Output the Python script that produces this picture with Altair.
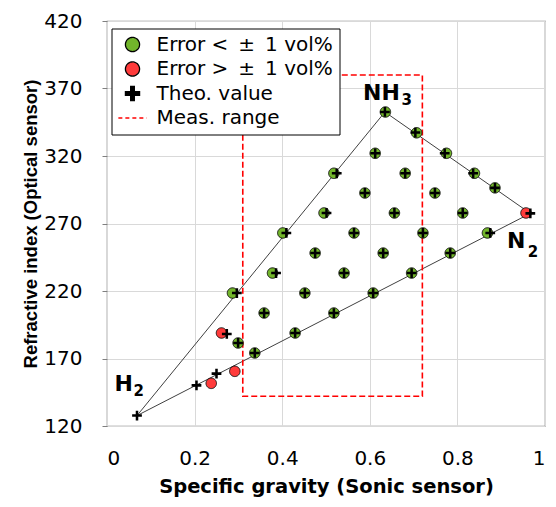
import altair as alt
import pandas as pd

# ---------------- data ----------------
meas_x = [0.6356, 0.7069, 0.6123, 0.7750, 0.5180, 0.6808, 0.8389, 0.8858, 0.5888, 0.7487,
          0.4955, 0.6562, 0.8122, 0.9566, 0.4014, 0.5640, 0.7213, 0.8686, 0.4752, 0.6306,
          0.7836, 0.3779, 0.5412, 0.6955, 0.2865, 0.4517, 0.6077, 0.3587, 0.5180, 0.2614,
          0.4295, 0.2993, 0.3374, 0.2918, 0.2380]
meas_y = [352.6, 337.2, 322.0, 322.0, 307.2, 307.2, 307.2, 296.4, 292.6, 292.6,
          277.8, 277.8, 277.8, 277.8, 263.0, 263.0, 263.0, 263.0, 248.1, 248.1,
          248.1, 233.3, 233.3, 233.3, 218.5, 218.5, 218.5, 203.7, 203.7, 188.9,
          188.9, 181.5, 174.1, 160.5, 151.6]
meas_ok = [1, 1, 1, 1, 1, 1, 1, 1, 1, 1,
           1, 1, 1, 0, 1, 1, 1, 1, 1, 1,
           1, 1, 1, 1, 1, 1, 1, 1, 1, 0,
           1, 1, 1, 0, 0]

theo_x = [0.6345, 0.7040, 0.6123, 0.7710, 0.5245, 0.6808, 0.8360, 0.8858, 0.5888, 0.7487,
          0.5012, 0.6562, 0.8122, 0.9665, 0.4095, 0.5640, 0.7213, 0.8750, 0.4752, 0.6306,
          0.7836, 0.3860, 0.5412, 0.6955, 0.2965, 0.4517, 0.6077, 0.3587, 0.5180, 0.2735,
          0.4295, 0.2993, 0.3374, 0.2500, 0.2043, 0.0685]
theo_y = [352.6, 337.4, 322.0, 322.0, 307.2, 307.2, 307.2, 296.4, 292.6, 292.6,
          277.8, 277.8, 277.8, 277.5, 263.0, 263.0, 263.0, 263.0, 248.1, 248.1,
          248.1, 233.3, 233.3, 233.3, 218.5, 218.5, 218.5, 203.7, 203.7, 188.2,
          188.9, 181.5, 174.1, 158.8, 150.1, 127.7]

vertex_main = ["H", "NH", "N"]
vertex_sub = ["2", "3", "2"]
vertex_x = [0.0685, 0.6345, 0.9665]
vertex_y = [127.7, 352.6, 277.5]

range_x = [0.31, 0.72]
range_y = [142, 380]

x_ticks = [0, 0.2, 0.4, 0.6, 0.8, 1]
y_ticks = [120, 170, 220, 270, 320, 370, 420]

LAB_OK = "Error <\u2002\u00b1\u20021 vol%"
LAB_BAD = "Error >\u2002\u00b1\u20021 vol%"
LAB_THEO = "Theo. value"
LAB_RANGE = "Meas. range"
kinds = [LAB_OK, LAB_BAD, LAB_THEO, LAB_RANGE]
GREEN = "#72B52B"
RED = "#FF3B3B"

FONT = "DejaVu Sans"
FONT_Y = "Liberation Sans"
CROSS = "M-1,-0.26H1V0.26H-1Z M-0.26,-1H0.26V1H-0.26Z"
DASHLINE = "M-2,0H2"

fill_range = [GREEN, RED, "#000000", "transparent"]
stroke_range = ["#000000", "#000000", "#000000", "#FF0000"]
shape_range = ["circle", "circle", CROSS, DASHLINE]
dash_range = [[1, 0], [1, 0], [1, 0], [4, 3]]

# ---------------- tables ----------------
df_meas = pd.DataFrame({"x": meas_x, "y": meas_y,
                        "kind": [LAB_OK if o else LAB_BAD for o in meas_ok]})
df_theo = pd.DataFrame({"x": theo_x, "y": theo_y, "kind": LAB_THEO})
df_tri = pd.DataFrame({"x": vertex_x + vertex_x[:1], "y": vertex_y + vertex_y[:1],
                       "o": list(range(len(vertex_x) + 1))})
df_rng = pd.DataFrame({"x": [range_x[0]], "x2": [range_x[1]],
                       "y": [range_y[0]], "y2": [range_y[1]], "kind": [LAB_RANGE]})

xs = alt.Scale(domain=[0, 1], nice=False, zero=False)
ys = alt.Scale(domain=[120, 420], nice=False, zero=False)

X = alt.X("x:Q", scale=xs, title="Specific gravity (Sonic sensor)",
          axis=alt.Axis(values=x_ticks, format="~g"))
Y = alt.Y("y:Q", scale=ys, title="Refractive index (Optical sensor)",
          axis=alt.Axis(values=y_ticks))

LEG = alt.Legend(title=None)
F = alt.Fill("kind:N", scale=alt.Scale(domain=kinds, range=fill_range), legend=LEG)
S = alt.Stroke("kind:N", scale=alt.Scale(domain=kinds, range=stroke_range), legend=LEG)
SH = alt.Shape("kind:N", scale=alt.Scale(domain=kinds, range=shape_range), legend=LEG)
D = alt.StrokeDash("kind:N", scale=alt.Scale(domain=kinds, range=dash_range), legend=LEG)

tri = alt.Chart(df_tri).mark_line(color="#404040", strokeWidth=1).encode(x=X, y=Y, order="o:Q")
rng = alt.Chart(df_rng).mark_rect(strokeWidth=1.6, strokeDash=[6, 3]).encode(
    x=X, x2="x2:Q", y=Y, y2="y2:Q", fill=F, stroke=S)
circ = alt.Chart(df_meas).mark_point(filled=True, size=110, strokeWidth=0.9, opacity=1).encode(
    x=X, y=Y, fill=F, stroke=S, shape=SH, strokeDash=D)
cross = alt.Chart(df_theo).mark_point(filled=True, size=95, strokeWidth=0, opacity=1).encode(
    x=X, y=Y, fill=F, stroke=S, shape=SH, strokeDash=D)

# vertex labels (offsets relative to the vertex points)
offs_main = [(-4, -25), (15, -12), (-5, 35)]
offs_sub = [(-3.5, -20), (16.5, -6.5), (-2.5, 43.5)]
labels = []
for i in range(len(vertex_x)):
    dfv = pd.DataFrame({"x": [vertex_x[i]], "y": [vertex_y[i]],
                        "m": [vertex_main[i]], "s": [vertex_sub[i]]})
    labels.append(alt.Chart(dfv).mark_text(
        font=FONT, fontSize=22, fontWeight="bold", align="right", baseline="alphabetic",
        dx=offs_main[i][0], dy=offs_main[i][1], color="black").encode(x=X, y=Y, text="m:N"))
    labels.append(alt.Chart(dfv).mark_text(
        font=FONT, fontSize=15, fontWeight="bold", align="left", baseline="alphabetic",
        dx=offs_sub[i][0], dy=offs_sub[i][1], color="black").encode(x=X, y=Y, text="s:N"))

chart = alt.layer(tri, rng, circ, cross, *labels).properties(
    width=438, height=405,
    padding={"left": 107, "top": 21, "right": 11, "bottom": 81},
    autosize=alt.AutoSizeParams(type="none"),
).configure_view(
    stroke="#7f7f7f", strokeWidth=1.2
).configure_axis(
    grid=True, gridColor="#d9d9d9", gridWidth=1, domain=False,
    labelFont=FONT, labelFontSize=20, labelColor="black",
    titleFont=FONT, titleFontSize=19.5, titleFontWeight="bold", titleColor="black",
).configure_axisX(
    ticks=False, labelPadding=22, titlePadding=9,
).configure_axisY(
    ticks=True, tickSize=5, tickColor="#7f7f7f", labelPadding=20, titlePadding=3,
    titleFont=FONT_Y, titleFontSize=18.5,
).configure_legend(
    orient="none", legendX=4.5, legendY=7.5,
    strokeColor="black", fillColor="white", padding=6,
    labelFont=FONT, labelFontSize=20, labelColor="black", labelLimit=400,
    labelOffset=14, rowPadding=4.5, symbolSize=200, symbolOffset=5,
    symbolStrokeWidth=1.3, symbolOpacity=1,
)

chart.save("out.html", embed_options={"renderer": "svg", "actions": False})
